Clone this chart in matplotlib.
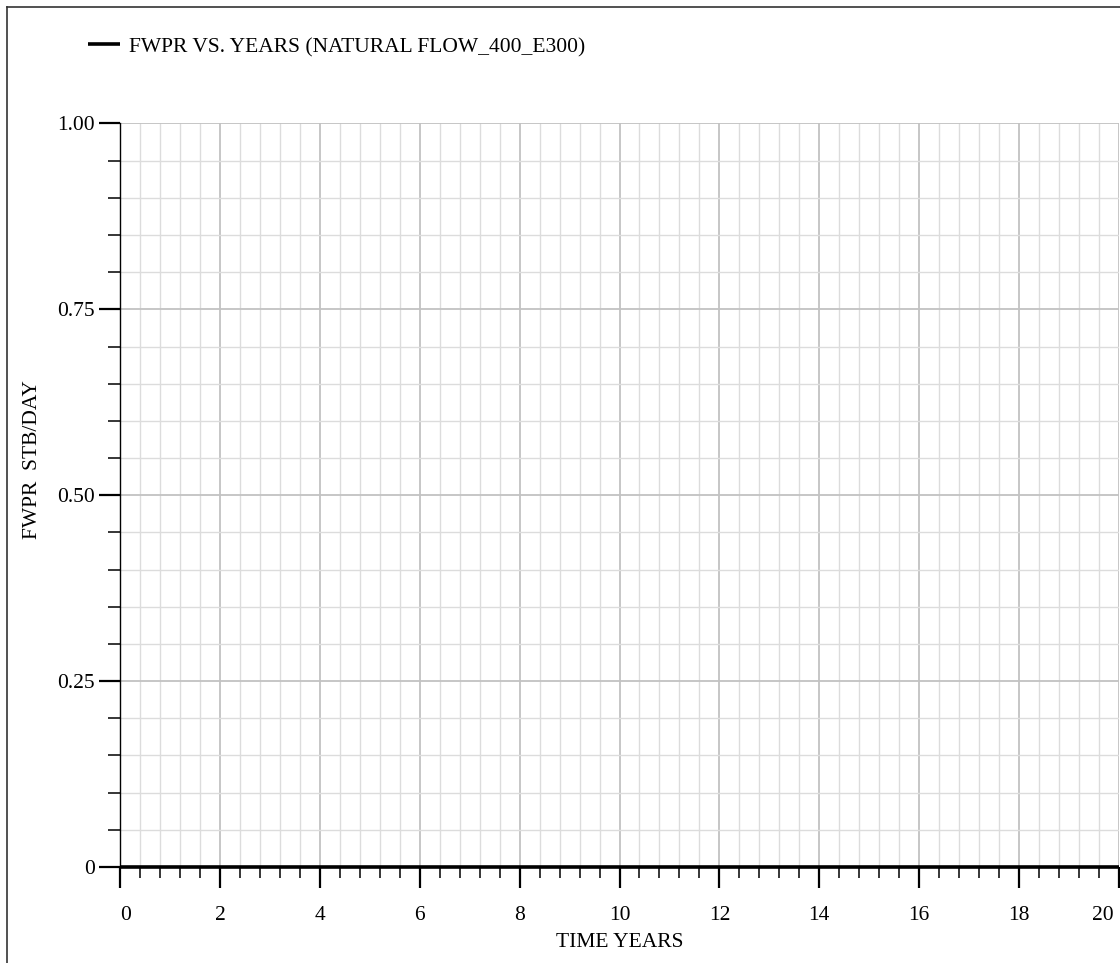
import matplotlib
matplotlib.use("Agg")
import matplotlib.pyplot as plt
from matplotlib.lines import Line2D
from matplotlib.ticker import MultipleLocator

# FWPR reported once a year, zero for the whole run
years = [0, 1, 2, 3, 4, 5, 6, 7, 8, 9, 10, 11, 12, 13, 14, 15, 16, 17, 18, 19, 20]
fwpr = [0, 0, 0, 0, 0, 0, 0, 0, 0, 0, 0, 0, 0, 0, 0, 0, 0, 0, 0, 0, 0]

x_ticks = [0, 2, 4, 6, 8, 10, 12, 14, 16, 18, 20]
y_ticks = [0, 0.25, 0.50, 0.75, 1.00]
y_tick_labels = ["0", "0.25", "0.50", "0.75", "1.00"]
series_name = "FWPR VS. YEARS (NATURAL FLOW_400_E300)"

plt.rcParams['font.family'] = ['Liberation Serif', 'DejaVu Serif']
fs = 15.5

W, H = 1120, 963
fig = plt.figure(figsize=(W / 100, H / 100), dpi=100)
ax = fig.add_axes([120 / W, 1 - 867 / H, 999 / W, (867 - 123.5) / H])

ax.plot(years, fwpr, color='black', lw=2.6, clip_on=False, zorder=5,
        solid_capstyle='butt', label=series_name)

ax.set_xlim(0, 20)
ax.set_ylim(0, 1)
ax.set_xticks(x_ticks)
ax.set_xticklabels([str(t) for t in x_ticks])
ax.set_yticks(y_ticks)
ax.set_yticklabels(y_tick_labels)
ax.xaxis.set_minor_locator(MultipleLocator(0.4))
ax.yaxis.set_minor_locator(MultipleLocator(0.05))

ax.grid(which='major', color='#c2c2c2', lw=1.3)
ax.grid(which='minor', color='#dcdcdc', lw=1.0)
ax.set_axisbelow(True)

for s in ['top', 'right', 'bottom']:
    ax.spines[s].set_visible(False)
ax.spines['left'].set_linewidth(1.0)

ax.tick_params(axis='x', which='major', direction='out', length=15, width=1.6,
               pad=13, labelsize=fs)
ax.tick_params(axis='x', which='minor', direction='out', length=8, width=1.1)
ax.tick_params(axis='y', which='major', direction='out', length=15, width=1.6,
               pad=3, labelsize=fs)
ax.tick_params(axis='y', which='minor', direction='out', length=9, width=1.1)

xl = ax.get_xticklabels()
xl[0].set_ha('left')
xl[-1].set_ha('right')
xl[-1].set_text("20 ")
ax.set_xticklabels([t.get_text() for t in xl])
xl = ax.get_xticklabels()
xl[0].set_ha('left')
xl[-1].set_ha('right')

ax.set_xlabel("TIME YEARS", fontsize=fs, labelpad=6)
fig.text(33 / W, 1 - 460 / H, "FWPR  STB/DAY", rotation=90, fontsize=fs,
         ha='center', va='center')

ax.legend(loc='center left', bbox_to_anchor=(88 / W, 1 - 47 / H),
          bbox_transform=fig.transFigure, frameon=False, fontsize=fs,
          handlelength=1.5, handletextpad=0.4, borderpad=0, borderaxespad=0)

# frame around the plot page (only left and top edges fall inside the image)
fig.add_artist(Line2D([7 / W, 7 / W], [0, 1 - 7 / H], transform=fig.transFigure,
                      color='#333333', lw=1.2))
fig.add_artist(Line2D([7 / W, 1], [1 - 7 / H, 1 - 7 / H], transform=fig.transFigure,
                      color='#333333', lw=1.2))

fig.savefig("out.png", dpi=100)
